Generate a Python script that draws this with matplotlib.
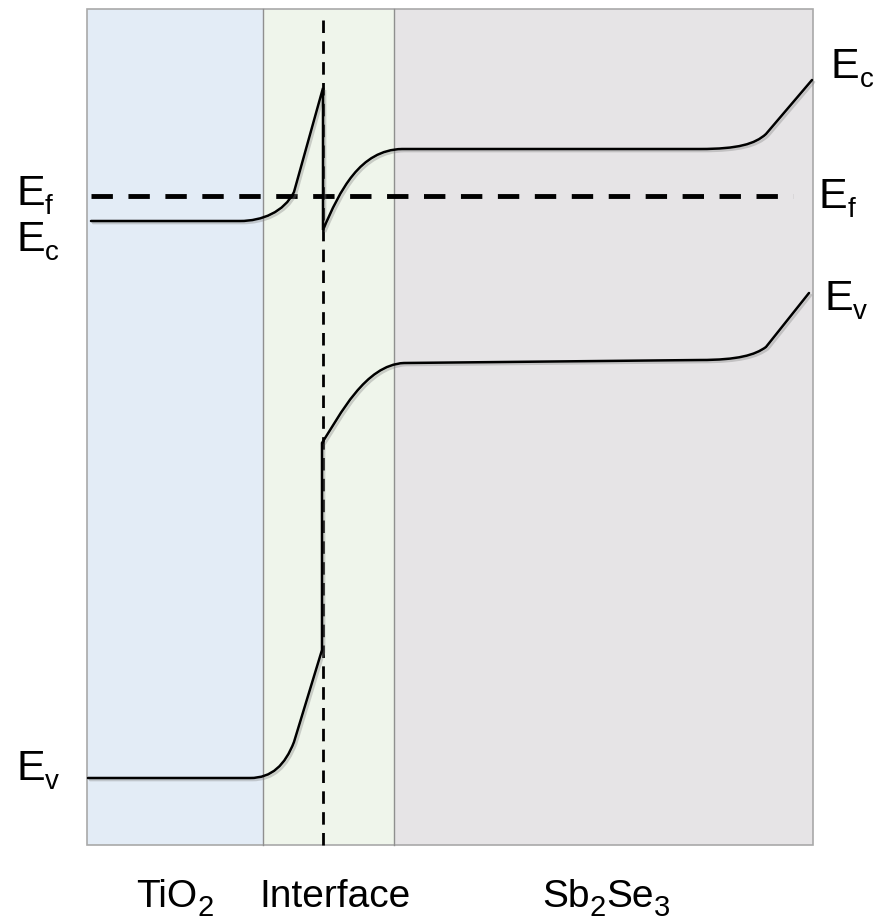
import matplotlib
matplotlib.use("Agg")
import matplotlib.pyplot as plt
import matplotlib.patheffects as pe
from matplotlib.path import Path
from matplotlib.patches import PathPatch, Rectangle

# =========================================================
# CONFIG
# =========================================================

plt.rcParams["font.family"] = ["Liberation Sans", "DejaVu Sans"]

W, H = 880, 923

# layer boundaries (x, drawing units) and layer names as (text, is_subscript) runs
REGION_EDGES = [87, 263, 394, 813]
REGION_NAMES = [
    [("TiO", False), ("2", True)],
    [("Interface", False)],
    [("Sb", False), ("2", True), ("Se", False), ("3", True)],
]
REGION_LABEL_X = [175, 335, 606]
REGION_LABEL_Y = 907
REGION_COLORS = ["#e3ecf6", "#eff5eb", "#e6e4e6"]
BOX_TOP, BOX_BOTTOM = 9, 845

# Fermi level and metallurgical junction
E_FERMI = 196
FERMI_X = (91, 793)
JUNCTION_X = 323
JUNCTION_Y = (20, 853)

# band edges: (code, points) - M move, L line, C cubic bezier
EC_SEGMENTS = [
    ("M", [(91, 221)]),
    ("L", [(240, 221)]),
    ("C", [(262, 221), (284, 212), (294, 192)]),
    ("L", [(323, 88)]),
    ("L", [(323, 230)]),
    ("C", [(340, 190), (360, 150), (402, 149)]),
    ("L", [(700, 149)]),
    ("C", [(738, 149), (755, 144), (766, 134)]),
    ("L", [(812, 80)]),
]

EV_SEGMENTS = [
    ("M", [(88, 778)]),
    ("L", [(250, 778)]),
    ("C", [(272, 778), (285, 765), (294, 742)]),
    ("L", [(322, 650)]),
    ("L", [(322, 443)]),
    ("C", [(340, 415), (365, 365), (404, 363)]),
    ("L", [(700, 360)]),
    ("C", [(738, 360), (755, 355), (766, 347)]),
    ("L", [(809, 293)]),
]

# level labels: subscript, x, baseline y
LEVEL_LABELS = [
    ("f", 16, 205),
    ("c", 16, 251),
    ("v", 16, 780),
    ("c", 831, 78),
    ("f", 819, 208),
    ("v", 824, 310),
]


def build_path(segments):
    codes_map = {"M": Path.MOVETO, "L": Path.LINETO, "C": Path.CURVE4}
    verts, codes = [], []
    for kind, pts in segments:
        verts.extend(pts)
        codes.extend([codes_map[kind]] * len(pts))
    return Path(verts, codes)


def draw_runs(ax, renderer, runs, x, y, size, sub_size, sub_drop, center=False):
    # lay out text runs left to right, dropping subscripts below the baseline
    texts = []
    cursor = 0.0
    for s, is_sub in runs:
        t = ax.text(0, 0, s, fontsize=sub_size if is_sub else size,
                    ha="left", va="baseline", color="black")
        w = t.get_window_extent(renderer).width
        texts.append((t, cursor, is_sub))
        cursor += w
    start = x - cursor / 2 if center else x
    for t, off, is_sub in texts:
        t.set_position((start + off, y + (sub_drop if is_sub else 0)))


# =========================================================
# MAIN
# =========================================================

def main():
    fig = plt.figure(figsize=(W / 100, H / 100), dpi=100)
    ax = fig.add_axes([0, 0, 1, 1])
    ax.set_xlim(0, W)
    ax.set_ylim(H, 0)
    ax.axis("off")
    renderer = fig.canvas.get_renderer()

    # ---------------- LAYER BACKGROUNDS ----------------
    for i, color in enumerate(REGION_COLORS):
        x0, x1 = REGION_EDGES[i], REGION_EDGES[i + 1]
        ax.add_patch(Rectangle((x0, BOX_TOP), x1 - x0, BOX_BOTTOM - BOX_TOP,
                               facecolor=color, edgecolor="none", zorder=0))
    ax.add_patch(Rectangle((REGION_EDGES[0], BOX_TOP),
                           REGION_EDGES[-1] - REGION_EDGES[0], BOX_BOTTOM - BOX_TOP,
                           facecolor="none", edgecolor="#a9a9a9", lw=1.2, zorder=1))
    for x in REGION_EDGES[1:-1]:
        ax.plot([x, x], [BOX_TOP, BOX_BOTTOM], color="#8f8f8f", lw=1.0, zorder=1)

    # ---------------- FERMI LEVEL + JUNCTION ----------------
    ax.plot(FERMI_X, [E_FERMI, E_FERMI], color="black", lw=3.5,
            dashes=(4.4, 3.2), zorder=3)
    ax.plot([JUNCTION_X, JUNCTION_X], JUNCTION_Y, color="black", lw=2.0,
            dashes=(4.5, 3.0), zorder=3)

    # ---------------- BAND EDGES ----------------
    shadow = [pe.SimpleLineShadow(offset=(1.5, -1.5), shadow_color="gray", alpha=0.35),
              pe.Normal()]
    for segs in (EC_SEGMENTS, EV_SEGMENTS):
        patch = PathPatch(build_path(segs), facecolor="none", edgecolor="black",
                          lw=1.8, capstyle="round", joinstyle="miter", zorder=4)
        patch.set_path_effects(shadow)
        ax.add_patch(patch)

    # ---------------- LABELS ----------------
    for sub, x, y in LEVEL_LABELS:
        draw_runs(ax, renderer, [("E", False), (sub, True)], x, y,
                  size=31, sub_size=20, sub_drop=9)

    for runs, x in zip(REGION_NAMES, REGION_LABEL_X):
        draw_runs(ax, renderer, runs, x, REGION_LABEL_Y,
                  size=28, sub_size=21, sub_drop=9, center=True)

    fig.savefig("out.png", dpi=100)
    plt.close(fig)


if __name__ == "__main__":
    main()
